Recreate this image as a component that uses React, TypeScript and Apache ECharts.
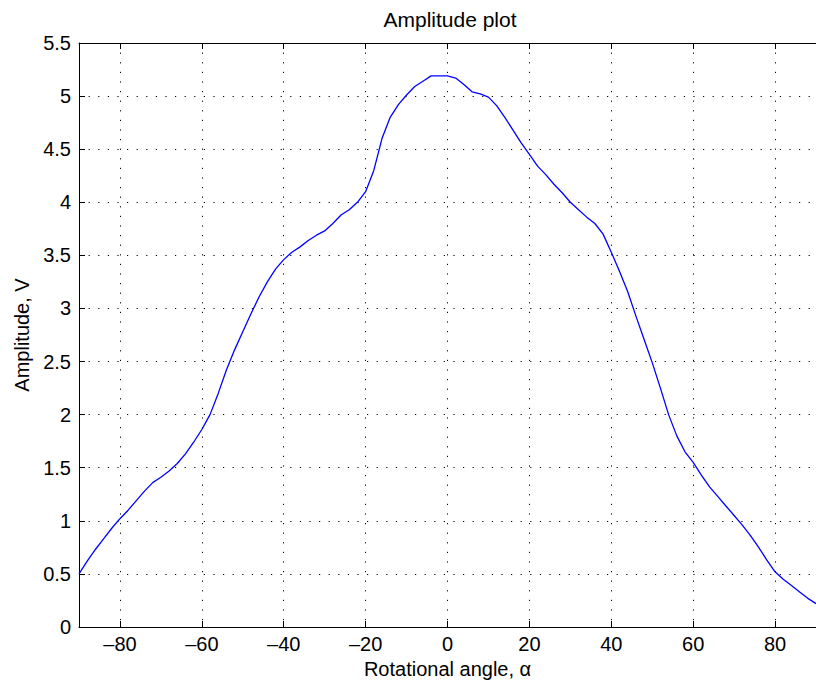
import React, { useEffect, useRef } from "react";
import * as echarts from "echarts";

// Rotational angle (degrees) and measured amplitude (V)
const angles = [
  -90, -88, -86, -84, -82, -80, -78, -76, -74, -72, -70, -68, -66, -64, -62, -60,
  -58, -56, -54, -52, -50, -48, -46, -44, -42, -40, -38, -36, -34, -32, -30, -28,
  -26, -24, -22, -20, -18, -16, -14, -12, -10, -8, -6, -4, -2, 0, 2, 4, 6, 8, 10,
  12, 14, 16, 18, 20, 22, 24, 26, 28, 30, 32, 34, 36, 38, 40, 42, 44, 46, 48, 50,
  52, 54, 56, 58, 60, 62, 64, 66, 68, 70, 72, 74, 76, 78, 80, 82, 84, 86, 88, 90,
];
const amplitudes = [
  0.5, 0.62, 0.73, 0.83, 0.93, 1.02, 1.1, 1.19, 1.28, 1.36, 1.41, 1.47, 1.54, 1.63, 1.74, 1.86,
  2.0, 2.2, 2.42, 2.61, 2.78, 2.95, 3.11, 3.25, 3.37, 3.46, 3.53, 3.58, 3.64, 3.69, 3.73, 3.8,
  3.88, 3.93, 4.0, 4.1, 4.3, 4.6, 4.8, 4.92, 5.01, 5.09, 5.14, 5.19, 5.19, 5.19, 5.17, 5.11, 5.04, 5.02, 4.99,
  4.91, 4.8, 4.68, 4.56, 4.45, 4.34, 4.26, 4.17, 4.09, 4.0, 3.93, 3.86, 3.8, 3.7, 3.53, 3.35, 3.16, 2.93, 2.71, 2.49,
  2.25, 2.0, 1.8, 1.65, 1.55, 1.43, 1.32, 1.23, 1.14, 1.05, 0.96, 0.86, 0.75, 0.63, 0.52, 0.45, 0.39, 0.33, 0.27, 0.22,
];
const xTicks = [-80, -60, -40, -20, 0, 20, 40, 60, 80];

const FONT = '"Liberation Sans", Arial, Helvetica, sans-serif';
const dotted = { color: "#000", width: 1, type: [1.2, 8.4] as number[] };

export default function App() {
  const ref = useRef<HTMLDivElement>(null);

  useEffect(() => {
    if (!ref.current) return;
    const chart = echarts.init(ref.current, null, { renderer: "svg" });
    const fmtX = (v: number) => (v < 0 ? "\u2013" + Math.abs(v) : String(v));
    chart.setOption({
      animation: false,
      backgroundColor: "#fff",
      textStyle: { fontFamily: FONT },
      grid: { left: 79, right: -4, top: 43, bottom: 61, containLabel: false },
      graphic: [
        {
          type: "text",
          x: 450,
          y: 19,
          style: {
            text: "Amplitude plot",
            align: "center",
            verticalAlign: "middle",
            font: `21px ${FONT}`,
            fill: "#000",
          },
        },
      ],
      xAxis: [
        {
          type: "value",
          min: -90,
          max: 90,
          position: "bottom",
          name: "Rotational angle, \u03b1",
          nameLocation: "middle",
          nameGap: 28,
          nameTextStyle: { fontSize: 20, color: "#000", fontFamily: FONT },
          axisLine: { onZero: false, lineStyle: { color: "#000", width: 1 } },
          axisTick: { inside: true, length: 6, customValues: xTicks, lineStyle: { color: "#000" } },
          axisLabel: {
            customValues: xTicks,
            margin: 7,
            fontSize: 20,
            color: "#000",
            fontFamily: FONT,
            formatter: fmtX,
          },
          splitLine: { show: true, lineStyle: dotted },
        },
        {
          type: "value",
          min: -90,
          max: 90,
          position: "top",
          axisLine: { onZero: false, lineStyle: { color: "#000", width: 1 } },
          axisTick: { inside: true, length: 6, customValues: xTicks, lineStyle: { color: "#000" } },
          axisLabel: { show: false },
          splitLine: { show: false },
        },
      ],
      yAxis: [
        {
          type: "value",
          min: 0,
          max: 5.5,
          interval: 0.5,
          position: "left",
          name: "Amplitude, V",
          nameLocation: "middle",
          nameGap: 47,
          nameTextStyle: { fontSize: 20, color: "#000", fontFamily: FONT },
          axisLine: { show: true, onZero: false, lineStyle: { color: "#000", width: 1 } },
          axisTick: { show: true, inside: true, length: 6, lineStyle: { color: "#000" } },
          axisLabel: { margin: 8, fontSize: 20, color: "#000", fontFamily: FONT },
          splitLine: { show: true, lineStyle: dotted },
        },
      ],
      series: [
        {
          type: "line",
          xAxisIndex: 0,
          yAxisIndex: 0,
          data: angles.map((a, i) => [a, amplitudes[i]]),
          showSymbol: false,
          symbol: "none",
          lineStyle: { color: "#0000ff", width: 1.3 },
          silent: true,
        },
      ],
    });
    return () => chart.dispose();
  }, []);

  return (
    <div
      ref={ref}
      style={{ position: "fixed", left: 0, top: 0, width: 816, height: 688, background: "#fff" }}
    />
  );
}
